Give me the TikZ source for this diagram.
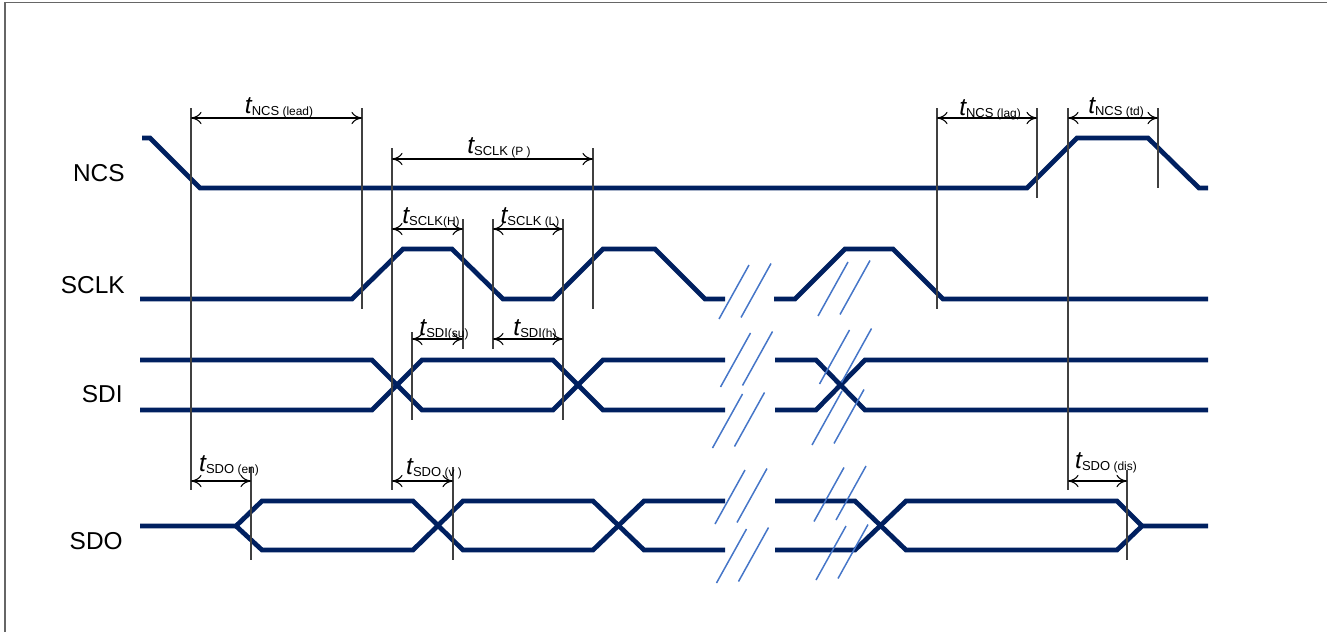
\documentclass[tikz,border=0pt]{standalone}
\usepackage{fontspec}
\setmainfont{Liberation Sans}
\usetikzlibrary{arrows.meta}

\definecolor{wavecol}{RGB}{0,32,96}
\definecolor{breakcol}{RGB}{70,118,200}

\newcommand{\tname}[2]{{\fontsize{14}{14}\selectfont\itshape t}\raisebox{-1.4pt}{\fontsize{7.4}{8}\selectfont #1{\fontsize{6.8}{8}\selectfont #2}}}

\begin{document}
\begin{tikzpicture}[x=0.02cm,y=-0.02cm,
  sigline/.style={draw=wavecol,line width=2.7pt},
  cut/.style={draw=breakcol,line width=0.85pt},
  ext/.style={draw=black!75,line width=0.6pt},
  dimline/.style={draw=black,line width=0.6pt,>={To[length=6pt,width=7pt]},<->},
  tlabel/.style={anchor=base,inner sep=0pt},
  siglabel/.style={anchor=base east,inner sep=0pt,font=\fontsize{13.9}{14}\selectfont}]
\useasboundingbox (0,0) rectangle (1327,632);
\draw[draw=black!60,line width=0.8pt] (5,632) -- (5,2.5) -- (1327,2.5);

% signal names
\node[siglabel] (ncs) at (125,181) {NCS};
\node[siglabel] (sclk) at (125,293) {SCLK};
\node[siglabel] (sdi) at (123,402) {SDI};
\node[siglabel] (sdo) at (123,549) {SDO};

% NCS
\draw[sigline] (142,138) -- (150,138) -- (200,188) -- (1027,188) -- (1077,138) -- (1148,138) -- (1199,188) -- (1208,188);
% SCLK
\draw[sigline] (140,299) -- (352,299) -- (403,249) -- (452,249) -- (503,299) -- (553,299) -- (603,249) -- (655,249) -- (705,299) -- (725,299);
\draw[sigline] (774,299) -- (795,299) -- (845,249) -- (893,249) -- (943,299) -- (1208,299);
% SDI
\draw[sigline] (140,360) -- (372,360) -- (422,410) -- (553,410) -- (603,360) -- (725,360);
\draw[sigline] (140,410) -- (372,410) -- (422,360) -- (553,360) -- (603,410) -- (725,410);
\draw[sigline] (775,360) -- (816,360) -- (865,410) -- (1208,410);
\draw[sigline] (775,410) -- (816,410) -- (865,360) -- (1208,360);
% SDO
\draw[sigline] (140,526) -- (236,526) -- (262,501) -- (413,501) -- (463,550) -- (593,550) -- (644,501) -- (725,501);
\draw[sigline] (236,526) -- (262,550) -- (413,550) -- (463,501) -- (593,501) -- (644,550) -- (725,550);
\draw[sigline] (775,501) -- (855,501) -- (906,550) -- (1117,550) -- (1142,526) -- (1208,526);
\draw[sigline] (775,550) -- (855,550) -- (906,501) -- (1117,501) -- (1142,526);

% break marks
\foreach \cx/\cy in {734/292, 735.5/360, 727.5/421, 730/497, 731.5/556, 833/289, 834.5/357, 827/418, 829/494.5, 831/553}
  \foreach \dx/\dy in {0/0, 22/-1.5}
    \draw[cut] (\cx+\dx-15,\cy+\dy+27) -- (\cx+\dx+15,\cy+\dy-27);

% extension lines
\foreach \x/\ya/\yb in {191/108/490, 362/108/309, 392/148/490, 593/148/309, 463/219/349, 493/219/349, 563/219/420, 412/332/420, 251/467/560, 453/467/560, 937/108/309, 1037/108/198, 1068/108/490, 1158/108/188, 1127/470/560}
  \draw[ext] (\x,\ya) -- (\x,\yb);

% timing arrows
\draw[dimline] (191,118) -- (362,118);
\draw[dimline] (392,159) -- (593,159);
\draw[dimline] (392,229) -- (463,229);
\draw[dimline] (493,229) -- (563,229);
\draw[dimline] (412,339) -- (463,339);
\draw[dimline] (493,339) -- (563,339);
\draw[dimline] (191,481) -- (251,481);
\draw[dimline] (392,481) -- (453,481);
\draw[dimline] (937,118) -- (1037,118);
\draw[dimline] (1068,118) -- (1158,118);
\draw[dimline] (1068,481) -- (1127,481);

% timing names
\node[tlabel] (lead) at (279,113) {\tname{NCS}{ (lead)}};
\node[tlabel] (period) at (499,153) {\tname{SCLK}{ (P )}};
\node[tlabel] (high) at (431,223) {\tname{SCLK}{(H)}};
\node[tlabel] (low) at (530,223) {\tname{SCLK}{ (L)}};
\node[tlabel] (setup) at (444,335) {\tname{SDI}{(su)}};
\node[tlabel] (hold) at (535,335) {\tname{SDI}{(h)}};
\node[tlabel] (enable) at (229,471) {\tname{SDO}{ (en)}};
\node[tlabel] (valid) at (434,474) {\tname{SDO}{ (v )}};
\node[tlabel] (lag) at (990,115) {\tname{NCS}{ (lag)}};
\node[tlabel] (td) at (1116,113) {\tname{NCS}{ (td)}};
\node[tlabel] (disable) at (1106,468) {\tname{SDO}{ (dis)}};
\end{tikzpicture}
\end{document}
